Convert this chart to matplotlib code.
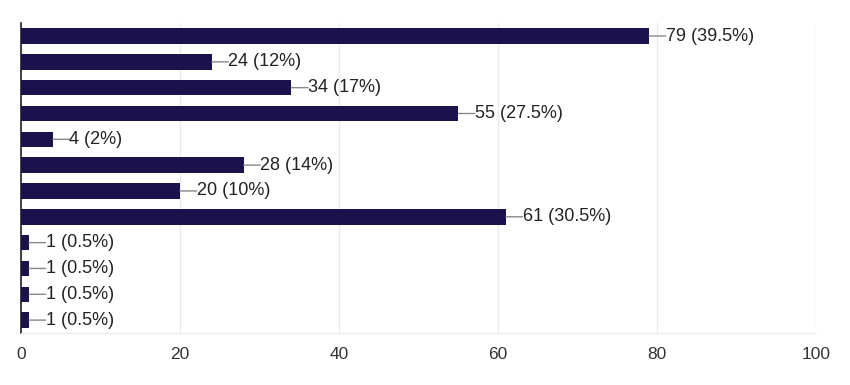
import matplotlib
matplotlib.use('Agg')
import matplotlib.pyplot as plt

counts = [79, 24, 34, 55, 4, 28, 20, 61, 1, 1, 1, 1]
total = 200
labels = ['%d (%s%%)' % (c, ('%.1f' % (c * 100 / total)).rstrip('0').rstrip('.')) for c in counts]

plt.rcParams['font.family'] = ['Liberation Sans', 'DejaVu Sans']

fig = plt.figure(figsize=(8.5, 3.85), dpi=100)
ax = fig.add_axes([0.0247, 0.135, 0.9353, 0.805])

y = list(range(len(counts)))
ax.barh(y, counts, height=0.6, color='#1b124c', zorder=3)

for yi, c, lab in zip(y, counts, labels):
    ax.annotate('', xy=(c, yi), xytext=(12, 0), textcoords='offset points',
                arrowprops=dict(arrowstyle='-', color='#888888', lw=1, shrinkA=0, shrinkB=0))
    ax.annotate(lab, xy=(c, yi), xytext=(12, 0), textcoords='offset points',
                va='center', ha='left', fontsize=13, color='#222222')

ax.set_xlim(0, 100)
ax.set_ylim(len(counts) - 0.5, -0.5)
ax.set_xticks([0, 20, 40, 60, 80, 100])
ax.set_yticks([])
ax.tick_params(axis='x', length=0, pad=10, labelsize=12.5, colors='#333333')
ax.grid(axis='x', color='#ebebeb', lw=1, zorder=0)

for s in ['top', 'right']:
    ax.spines[s].set_visible(False)
ax.spines['left'].set_color('#222222')
ax.spines['left'].set_linewidth(1.2)
ax.spines['bottom'].set_color('#ebebeb')

fig.savefig('out.png', dpi=100)
